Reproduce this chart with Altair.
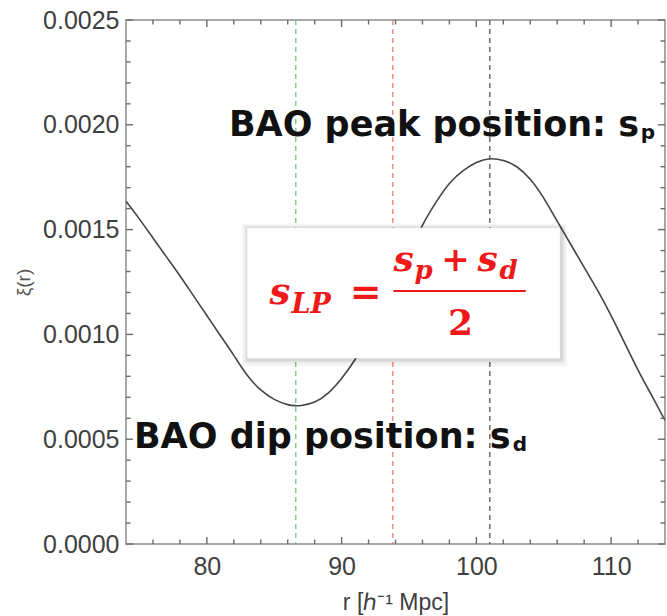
import altair as alt
import pandas as pd

# ---- data ----
r_vals = [74, 75, 76, 77, 78, 79, 80, 81, 82, 83, 84, 85, 86, 86.6, 87, 88, 89, 90,
          91, 92, 93, 94, 95, 96, 97, 98, 99, 100, 101, 102, 103, 104, 105, 106,
          107, 108, 109, 110, 111, 112, 113, 114]
xi_vals = [0.001635, 0.00155, 0.00146, 0.00137, 0.00128, 0.001185, 0.00109, 0.000995,
           0.0009, 0.000805, 0.000735, 0.00069, 0.000665, 0.00066, 0.000661, 0.000678,
           0.00072, 0.00079, 0.00088, 0.00099, 0.00111, 0.00124, 0.00138, 0.00152,
           0.00163, 0.00172, 0.00178, 0.00182, 0.001838, 0.00183, 0.0018, 0.00174,
           0.00165, 0.00154, 0.00143, 0.00132, 0.00121, 0.00109, 0.00096, 0.00083,
           0.00071, 0.00059]

vline_names = ["dip", "mid", "peak"]
vline_pos = [86.6, 93.8, 101.0]
vline_colors = ["#79c479", "#ef7c70", "#555555"]

x_major = [80, 90, 100, 110]
x_minor = [76, 78, 82, 84, 86, 88, 92, 94, 96, 98, 102, 104, 106, 108, 112]
y_major = [0.0, 0.0005, 0.0010, 0.0015, 0.0020, 0.0025]
y_minor = [0.0001, 0.0002, 0.0003, 0.0004, 0.0006, 0.0007, 0.0008, 0.0009,
           0.0011, 0.0012, 0.0013, 0.0014, 0.0016, 0.0017, 0.0018, 0.0019,
           0.0021, 0.0022, 0.0023, 0.0024]

peak_text = "BAO peak position: s"
dip_text = "BAO dip position: s"

W, H = 539, 524
xs = alt.Scale(domain=[74, 114], nice=False, zero=False)
ys = alt.Scale(domain=[0, 0.0025], nice=False, zero=True)

df = pd.DataFrame({"r": r_vals, "xi": xi_vals})
vdf = pd.DataFrame({"r": vline_pos, "name": vline_names})

FRAME = "#8c8c8c"
TICK = "#6a6a6a"
LABEL = "#404040"

# main curve with labelled axes
line = alt.Chart(df).mark_line(color="#454545", strokeWidth=1.6,
                               interpolate="natural", clip=True).encode(
    x=alt.X("r:Q", scale=xs, title="r [ℎ⁻¹ Mpc]",
            axis=alt.Axis(orient="bottom", values=x_major, ticks=False, domain=False,
                          grid=False, labelFontSize=25, labelFont="Liberation Sans",
                          labelColor=LABEL, labelPadding=10, titleFontSize=23,
                          titleFont="Liberation Sans", titleFontWeight="normal",
                          titleColor=LABEL, titlePadding=12)),
    y=alt.Y("xi:Q", scale=ys, title="ξ(r)",
            axis=alt.Axis(orient="left", values=y_major, format=".4f", ticks=False,
                          domain=False, grid=False, labelFontSize=25,
                          labelFont="Liberation Sans", labelColor=LABEL,
                          labelPadding=7, titleFontSize=19, titleFont="Liberation Sans",
                          titleFontWeight="normal", titleColor="#555555",
                          titlePadding=9)),
)

# inward frame ticks drawn from the tick-value lists
xmaj = pd.DataFrame({"r": x_major})
xmin = pd.DataFrame({"r": x_minor})
ymaj = pd.DataFrame({"xi": y_major})
ymin = pd.DataFrame({"xi": y_minor})


def xticks(data, size):
    out = []
    for centre in (H - size / 2, size / 2):
        out.append(alt.Chart(data).mark_tick(
            orient="vertical", size=size, thickness=1.4, color=TICK, opacity=1).encode(
            x=alt.X("r:Q", scale=xs, axis=None), y=alt.value(centre)))
    return out


def yticks(data, size):
    out = []
    for centre in (size / 2, W - size / 2):
        out.append(alt.Chart(data).mark_tick(
            orient="horizontal", size=size, thickness=1.4, color=TICK, opacity=1).encode(
            y=alt.Y("xi:Q", scale=ys, axis=None), x=alt.value(centre)))
    return out


ticks = xticks(xmaj, 7) + xticks(xmin, 4.5) + yticks(ymaj, 7) + yticks(ymin, 4.5)

vlines = alt.Chart(vdf).mark_rule(strokeDash=[5, 4], strokeWidth=1.3).encode(
    x=alt.X("r:Q", scale=xs, axis=None),
    color=alt.Color("name:N", scale=alt.Scale(domain=vline_names, range=vline_colors),
                    legend=None),
)

# formula box
box = pd.DataFrame({"r": [83.0], "r2": [106.2], "xi": [0.001509], "xi2": [0.000886]})


def rect(fill, opacity, o):
    return alt.Chart(box).mark_rect(fill=fill, opacity=opacity,
                                    xOffset=-o[0], x2Offset=o[1],
                                    yOffset=-o[2], y2Offset=o[3]).encode(
        x=alt.X("r:Q", scale=xs, axis=None), x2="r2:Q",
        y=alt.Y("xi:Q", scale=ys, axis=None), y2="xi2:Q")


shadows = [rect("#000000", 0.04, (5, 7, 4, 8)),
           rect("#000000", 0.05, (3, 5, 2, 5)),
           rect("#000000", 0.07, (1, 3, 1, 3))]
white_box = rect("#ffffff", 1.0, (0, 0, 0, 0))

anchor = pd.DataFrame({"r": [94.6], "xi": [0.0011975]})
RED = "#f01818"
SERIF = "DejaVu Serif"


def piece(text, dx, dy, size, italic=True, align="left"):
    return alt.Chart(anchor).mark_text(
        text=text, dx=dx, dy=dy, fontSize=size, font=SERIF, fontWeight="bold",
        fontStyle="italic" if italic else "normal", color=RED, align=align,
        baseline="alphabetic").encode(
        x=alt.X("r:Q", scale=xs, axis=None), y=alt.Y("xi:Q", scale=ys, axis=None))


formula = [
    piece("s", -134, 11, 37),
    piece("LP", -112, 20, 27),
    piece("=", -38, 12, 38, italic=False, align="center"),
    piece("s", -10, -22, 36),
    piece("p", 11, -14, 26),
    piece("+", 52, -22, 34, italic=False, align="center"),
    piece("s", 74, -22, 36),
    piece("d", 96, -14, 26),
    piece("2", 57, 42, 36, italic=False, align="center"),
]

bar = pd.DataFrame({"r": [93.85], "r2": [103.67], "xi": [0.001207]})
frac_bar = alt.Chart(bar).mark_rule(color=RED, strokeWidth=2.2).encode(
    x=alt.X("r:Q", scale=xs, axis=None), x2="r2:Q",
    y=alt.Y("xi:Q", scale=ys, axis=None))

# handwritten-style annotations
ann = pd.DataFrame({"r": [112.08, 102.54], "xi": [0.00200, 0.00051],
                    "label": [peak_text, dip_text]})
sub = pd.DataFrame({"r": [112.2, 102.7], "xi": [0.00200, 0.00051],
                    "label": ["p", "d"]})

ann_text = alt.Chart(ann).mark_text(align="right", baseline="middle", fontSize=35,
                                    font="DejaVu Sans", fontWeight="bold",
                                    color="#111111").encode(
    x=alt.X("r:Q", scale=xs, axis=None), y=alt.Y("xi:Q", scale=ys, axis=None),
    text="label:N")
sub_text = alt.Chart(sub).mark_text(align="left", baseline="middle", fontSize=20, dy=8,
                                    font="DejaVu Sans", fontWeight="bold",
                                    color="#111111").encode(
    x=alt.X("r:Q", scale=xs, axis=None), y=alt.Y("xi:Q", scale=ys, axis=None),
    text="label:N")

chart = alt.layer(
    line, *ticks, vlines, *shadows, white_box, frac_bar, *formula, ann_text, sub_text
).resolve_axis(x="independent", y="independent").properties(
    width=W, height=H,
    autosize=alt.AutoSizeParams(type="none"),
    padding={"left": 126, "top": 20, "right": 2, "bottom": 72},
).configure_view(stroke=FRAME, strokeWidth=1.5)

chart.save("out.html", embed_options={"renderer": "svg", "actions": False})
